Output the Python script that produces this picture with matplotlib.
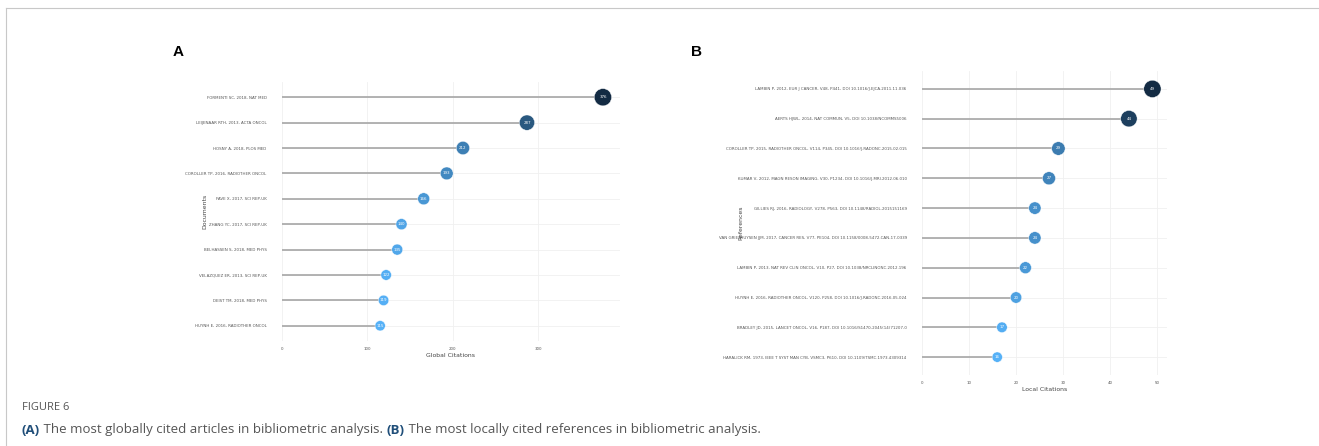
import numpy as np
import matplotlib
matplotlib.use("Agg")
import matplotlib.pyplot as plt
from matplotlib.colors import LinearSegmentedColormap
from matplotlib.lines import Line2D

# panel A: most globally cited documents
docs_a = [
    "FORMENTI SC, 2018, NAT MED",
    "LEIJENAAR RTH, 2013, ACTA ONCOL",
    "HOSNY A, 2018, PLOS MED",
    "COROLLER TP, 2016, RADIOTHER ONCOL",
    "FAVE X, 2017, SCI REP-UK",
    "ZHANG YC, 2017, SCI REP-UK",
    "BELHASSEN S, 2018, MED PHYS",
    "VELAZQUEZ ER, 2013, SCI REP-UK",
    "DEIST TM, 2018, MED PHYS",
    "HUYNH E, 2016, RADIOTHER ONCOL",
]
cites_a = [376, 287, 212, 193, 166, 140, 135, 122, 119, 115]

# panel B: most locally cited references
refs_b = [
    "LAMBIN P, 2012, EUR J CANCER, V48, P441, DOI 10.1016/J.EJCA.2011.11.036",
    "AERTS HJWL, 2014, NAT COMMUN, V5, DOI 10.1038/NCOMMS5006",
    "COROLLER TP, 2015, RADIOTHER ONCOL, V114, P345, DOI 10.1016/J.RADONC.2015.02.015",
    "KUMAR V, 2012, MAGN RESON IMAGING, V30, P1234, DOI 10.1016/J.MRI.2012.06.010",
    "GILLIES RJ, 2016, RADIOLOGY, V278, P563, DOI 10.1148/RADIOL.2015151169",
    "VAN GRIETHUYSEN JJM, 2017, CANCER RES, V77, PE104, DOI 10.1158/0008-5472.CAN-17-0339",
    "LAMBIN P, 2013, NAT REV CLIN ONCOL, V10, P27, DOI 10.1038/NRCLINONC.2012.196",
    "HUYNH E, 2016, RADIOTHER ONCOL, V120, P258, DOI 10.1016/J.RADONC.2016.05.024",
    "BRADLEY JD, 2015, LANCET ONCOL, V16, P187, DOI 10.1016/S1470-2045(14)71207-0",
    "HARALICK RM, 1973, IEEE T SYST MAN CYB, VSMC3, P610, DOI 10.1109/TSMC.1973.4309314",
]
cites_b = [49, 44, 29, 27, 24, 24, 22, 20, 17, 16]

caption_parts = [
    ("(A)", True),
    (" The most globally cited articles in bibliometric analysis. ", False),
    ("(B)", True),
    (" The most locally cited references in bibliometric analysis.", False),
]

W, H = 1319, 446
cmap = LinearSegmentedColormap.from_list("gg", ["#56B1F7", "#132B43"])


def lollipop(ax, labels, values, xmax, ticks, xlabel, ylabel, ylab_x, fs):
    values = np.array(values, dtype=float)
    n = len(values)
    y = np.arange(n)
    norm = (values - values.min()) / (values.max() - values.min())
    sizes = 55 + norm * 100

    ax.set_xlim(0, xmax)
    ax.set_ylim(n - 0.4, -0.6)
    ax.set_xticks(ticks)
    ax.set_yticks(y)
    ax.set_yticklabels(labels)
    ax.tick_params(axis="both", length=0, labelsize=fs, labelcolor="#555555")
    ax.tick_params(axis="y", pad=11)
    ax.tick_params(axis="x", pad=4)
    for s in ax.spines.values():
        s.set_visible(False)
    ax.grid(True, color="#f0f0f0", linewidth=0.6)
    ax.set_axisbelow(True)

    ax.hlines(y, 0, values, color="#a6a6a6", linewidth=1.2, zorder=2)
    ax.scatter(values, y, s=sizes, c=cmap(norm), edgecolors="white",
               linewidths=0.3, zorder=3)
    for v, yy in zip(values, y):
        ax.text(v, yy, f"{int(v)}", color="white", fontsize=2.9,
                ha="center", va="center", zorder=4)

    ax.set_xlabel(xlabel, fontsize=4.4, color="#444444", labelpad=2)
    ax.set_ylabel(ylabel, fontsize=4.4, color="#444444")
    ax.yaxis.set_label_coords(ylab_x, 0.5)


fig = plt.figure(figsize=(W / 100, H / 100), dpi=100)

# panel A
ax_a = fig.add_axes([282 / W, 1 - 341 / H, 338 / W, (341 - 82) / H])
lollipop(ax_a, docs_a, cites_a, 396, [0, 100, 200, 300],
         "Global Citations", "Documents", -0.222, 2.9)

# panel B
ax_b = fig.add_axes([922 / W, 1 - 375 / H, 245 / W, (375 - 71) / H])
lollipop(ax_b, refs_b, cites_b, 52.1, [0, 10, 20, 30, 40, 50],
         "Local Citations", "References", -0.73, 2.9)

fig.text(178 / W, 1 - 52 / H, "A", fontsize=11, fontweight="bold",
         family="Liberation Sans", va="center", ha="center")
fig.text(697 / W, 1 - 52 / H, "B", fontsize=11, fontweight="bold",
         family="Liberation Sans", va="center", ha="center")

# frame lines (top and left)
fig.add_artist(Line2D([6 / W, 1], [1 - 8 / H, 1 - 8 / H], color="#c8c8c8", linewidth=0.8))
fig.add_artist(Line2D([6 / W, 6 / W], [0, 1 - 8 / H], color="#c8c8c8", linewidth=0.8))

# caption
fig.text(22 / W, 1 - 407 / H, "FIGURE 6", fontsize=8, color="#555555",
         family="Open Sans", va="center")

renderer = fig.canvas.get_renderer()
x = 22
for part, bold in caption_parts:
    t = fig.text(x / W, 1 - 430 / H, part, fontsize=9.5,
                 color="#1f4e79" if bold else "#555555",
                 fontweight="bold" if bold else "normal",
                 family="Open Sans", va="center")
    x = t.get_window_extent(renderer).x1

fig.savefig("out.png", dpi=100)
